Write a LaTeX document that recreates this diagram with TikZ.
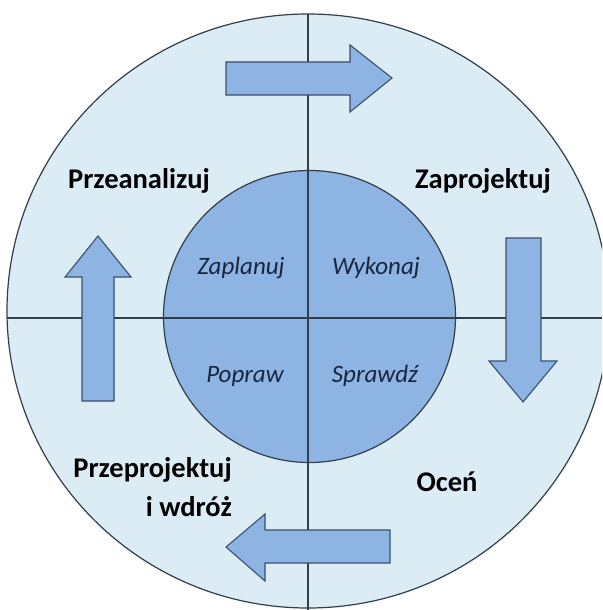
\documentclass[tikz,border=0pt]{standalone}
\usepackage{fontspec}
\setmainfont{Carlito}
\definecolor{outerfill}{RGB}{219,236,244}
\definecolor{innerfill}{RGB}{142,180,227}
\definecolor{arrowline}{RGB}{56,80,110}
\definecolor{lineclr}{RGB}{50,62,75}
\definecolor{italtext}{RGB}{25,38,64}
\begin{document}
\begin{tikzpicture}[x=1pt,y=-1pt,
  blockarrow/.style={fill=innerfill,draw=arrowline,line width=1.1pt,line join=miter},
  axisline/.style={draw=lineclr,line width=1.1pt},
  bigtext/.style={font=\fontsize{28.5}{39}\selectfont\bfseries,text=black,inner sep=0pt},
  itext/.style={font=\fontsize{25}{28}\selectfont\itshape,text=italtext,inner sep=0pt}]
\useasboundingbox (0,0) rectangle (602,610);
\clip (0,0) rectangle (602,610);
\fill[white] (0,0) rectangle (602,610);
% outer circle
\draw[fill=outerfill,draw=lineclr,line width=1.2pt] (308,311) ellipse [x radius=301, y radius=297];
% inner circle
\draw[fill=innerfill,draw=lineclr,line width=1.2pt] (309.5,316.5) circle [radius=146];
% axis lines
\coordinate (vtop) at (308,14);
\coordinate (vbot) at (308,610);
\coordinate (hleft) at (7,318);
\coordinate (hright) at (602,318);
\draw[axisline] (vtop) -- (vbot);
\draw[axisline] (hleft) -- (hright);
% arrows
\draw[blockarrow] (226,62) -- (350,62) -- (350,45) -- (392,78) -- (350,112) -- (350,95) -- (226,95) -- cycle;
\draw[blockarrow] (506,238) -- (541,238) -- (541,361) -- (557,361) -- (523,402) -- (489,361) -- (506,361) -- cycle;
\draw[blockarrow] (390,530) -- (265,530) -- (265,514) -- (226,547) -- (265,581) -- (265,563) -- (390,563) -- cycle;
\draw[blockarrow] (82,401) -- (82,277) -- (65,277) -- (98,236) -- (131,277) -- (114,277) -- (114,401) -- cycle;
% labels
\node[bigtext] (przean) at (139,181) {Przeanalizuj};
\node[bigtext] (zaproj) at (483,181) {Zaprojektuj};
\node[bigtext,align=right,anchor=east] (przeproj) at (232,487) {Przeprojektuj\\i wdróż};
\node[bigtext] (ocen) at (447,482) {Oceń};
\node[itext] (zapl) at (241,268) {Zaplanuj};
\node[itext] (wyk) at (376,268) {Wykonaj};
\node[itext] (popr) at (245,376) {Popraw};
\node[itext] (spr) at (375,376) {Sprawdź};
\end{tikzpicture}
\end{document}
